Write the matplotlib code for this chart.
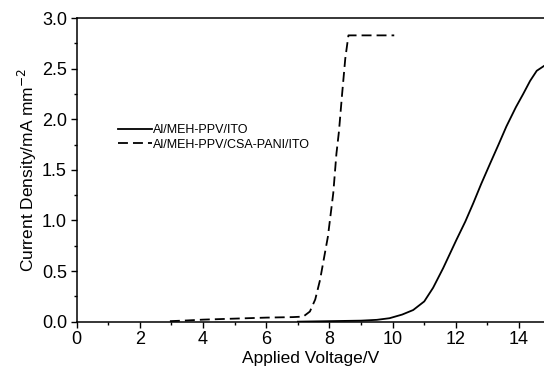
import numpy as np
import matplotlib.pyplot as plt
from matplotlib.ticker import MultipleLocator

plt.rcParams['font.family'] = ['Liberation Sans', 'DejaVu Sans']

# curva Al/MEH-PPV/ITO
v_ito = [7.0, 8.0, 9.0, 9.5, 9.9, 10.3, 10.65, 11.0, 11.28, 11.6, 12.02, 12.3,
         12.55, 12.8, 13.08, 13.35, 13.6, 13.9, 14.13, 14.35, 14.56, 14.8]
j_ito = [0.0, 0.005, 0.01, 0.018, 0.034, 0.07, 0.115, 0.2, 0.335, 0.53, 0.81, 0.99,
         1.17, 1.36, 1.56, 1.75, 1.93, 2.12, 2.25, 2.38, 2.48, 2.53]

# curva Al/MEH-PPV/CSA-PANI/ITO
v_pani = [2.95, 3.5, 4.0, 5.0, 6.0, 6.84, 7.17, 7.38, 7.55, 7.7, 7.95, 8.12,
          8.22, 8.3, 8.4, 8.5, 8.6, 10.05]
j_pani = [0.005, 0.012, 0.02, 0.03, 0.04, 0.045, 0.05, 0.1, 0.22, 0.41, 0.84, 1.27,
          1.66, 1.88, 2.25, 2.6, 2.83, 2.83]

fig = plt.figure(figsize=(5.44, 3.71), dpi=100)
ax = fig.add_axes([0.141, 0.133, 0.859, 0.818])

ax.plot(v_ito, j_ito, color='black', lw=1.3, label='Al/MEH-PPV/ITO')
ax.plot(v_pani, j_pani, color='black', lw=1.3, dashes=(5.5, 2.8),
        label='Al/MEH-PPV/CSA-PANI/ITO')

ax.set_xlim(0, 14.79)
ax.set_ylim(0, 3.0)
ax.xaxis.set_major_locator(MultipleLocator(2))
ax.xaxis.set_minor_locator(MultipleLocator(1))
ax.yaxis.set_major_locator(MultipleLocator(0.5))
ax.yaxis.set_minor_locator(MultipleLocator(0.25))
ax.yaxis.set_major_formatter(plt.FormatStrFormatter('%.1f'))
ax.tick_params(which='major', direction='out', length=4, width=1, labelsize=13, pad=3)
ax.tick_params(which='minor', direction='out', length=2.5, width=1)
ax.spines['right'].set_visible(False)
for s in ['left', 'bottom', 'top']:
    ax.spines[s].set_linewidth(1.1)

ax.set_xlabel('Applied Voltage/V', fontsize=12.5, labelpad=2)
ax.set_ylabel('Current Density/mA mm$^{-2}$', fontsize=12.5, labelpad=2)

ax.legend(loc='upper left', bbox_to_anchor=(0.078, 0.667), frameon=False,
          fontsize=9, handlelength=2.7, handletextpad=0.05, labelspacing=0.2,
          borderaxespad=0)

plt.savefig('out.png', dpi=100)
